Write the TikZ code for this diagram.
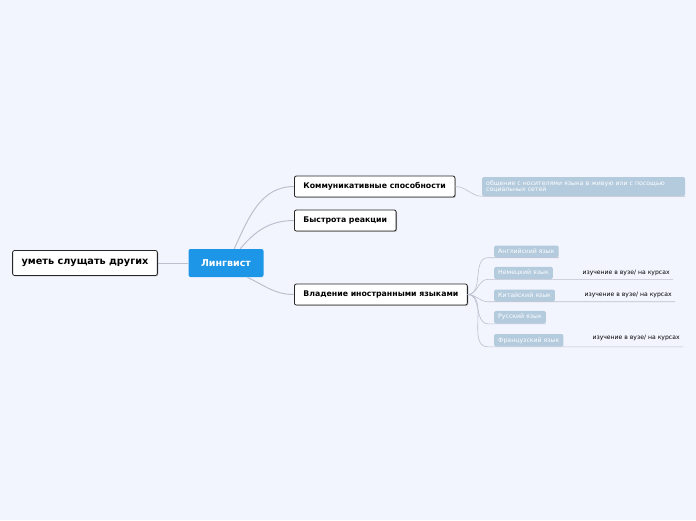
\documentclass[tikz,border=0pt]{standalone}
\usepackage{fontspec}
\setmainfont{DejaVu Sans}
\usetikzlibrary{positioning, shadows, calc}
\definecolor{bgcol}{RGB}{243,245,254}
\definecolor{linkcol}{RGB}{188,192,206}
\definecolor{rootcol}{RGB}{30,150,232}
\definecolor{leafcol}{RGB}{180,203,222}
\tikzset{
  topic/.style={draw=black!85, fill=white, rounded corners=2pt, line width=0.8pt, font=\bfseries\fontsize{7.8}{9}\selectfont, inner xsep=9pt, minimum height=21pt, drop shadow={shadow xshift=0.9pt, shadow yshift=-0.9pt, opacity=0.45}},
  root/.style={fill=rootcol, text=white, rounded corners=2pt, font=\bfseries\fontsize{9.5}{11}\selectfont, minimum width=75pt, minimum height=28pt},
  leaf/.style={fill=leafcol, text=white, rounded corners=1.5pt, font=\fontsize{6.2}{6.7}\selectfont, minimum height=12pt, inner xsep=4pt, anchor=west},
  note/.style={font=\fontsize{6.1}{7}\selectfont, anchor=west},
  link/.style={draw=linkcol, line width=1pt},
  sublink/.style={draw=linkcol, line width=0.6pt}
}

\begin{document}
\begin{tikzpicture}[x=1pt, y=-1pt]
\useasboundingbox (0,0) rectangle (696,520);
\fill[bgcol] (0,0) rectangle (696,520);
% centre and first level
\node[root] (ling) at (226,263) {Лингвист};
\node[topic, font=\bfseries\fontsize{9.7}{11}\selectfont, minimum height=25pt] (listen) at (85,263) {уметь слущать других};
\node[topic, anchor=west] (comm) at (294,186.5) {Коммуникативные способности};
\node[topic, anchor=west] (speed) at (294,220.5) {Быстрота реакции};
\node[topic, anchor=west] (langs) at (294,294.5) {Владение иностранными языками};
\draw[link] (listen) -- (ling);
\draw[link] (ling.60) to[out=65,in=180] (comm.west);
\draw[link] (ling.45) to[out=50,in=180] (speed.west);
\draw[link] (ling.-34) to[out=-25,in=180] (langs.west);
% communication
\node[leaf, text width=195pt, align=left, minimum height=19pt, inner ysep=1pt] (talk) at (482,186.5) {общение с носителями языка в живую или с посощью\\социальных сетей};
\draw[sublink] (comm.east) to[out=0,in=180] (talk.south west) -- (talk.south east);
% languages
\node[leaf] (en) at (494,251.5) {Английский язык};
\node[leaf, below=9pt of en.south west, anchor=north west] (de) {Немецкий язык};
\node[leaf, below=10pt of de.south west, anchor=north west] (zh) {Китайский язык};
\node[leaf, below=9pt of zh.south west, anchor=north west] (ru) {Русский язык};
\node[leaf, below=10pt of ru.south west, anchor=north west] (fr) {Французский язык};
\node[note] (de-n) at (579,273) {изучение в вузе/ на курсах};
\node[note] (zh-n) at (581,295) {изучение в вузе/ на курсах};
\node[note] (fr-n) at (589,338) {изучение в вузе/ на курсах};
\foreach \l in {en, ru}
  \draw[sublink] (langs.east) to[out=0,in=180] ($(\l.south west)+(-6,0)$) -- (\l.south east);
\foreach \l in {de, zh, fr}
  \draw[sublink] (langs.east) to[out=0,in=180] ($(\l.south west)+(-6,0)$) -- (\l.south east -| \l-n.east);
\end{tikzpicture}
\end{document}
